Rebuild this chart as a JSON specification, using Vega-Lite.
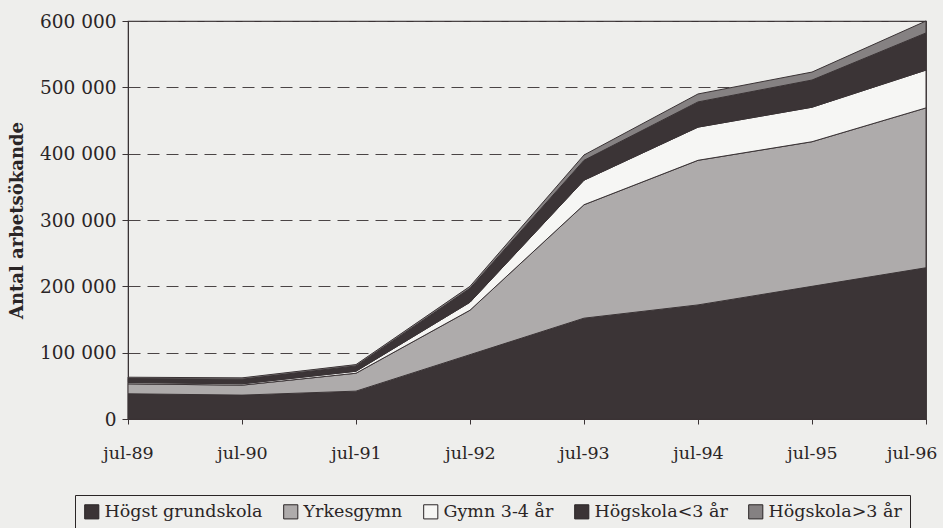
{
  "$schema": "https://vega.github.io/schema/vega-lite/v6.json",
  "width": 798,
  "height": 398,
  "autosize": {"type": "none"},
  "padding": {"left": 128, "top": 21, "right": 17, "bottom": 109},
  "background": "#eeeeec",
  "config": {
    "font": "DejaVu Serif",
    "view": {"stroke": "#3a3335", "strokeWidth": 1.2},
    "axis": {"labelFont": "DejaVu Serif", "titleFont": "DejaVu Serif", "labelColor": "#2a2526", "titleColor": "#2a2526"},
    "legend": {"labelFont": "DejaVu Serif"}
  },
  "data": {
    "values": [
      {"period": "jul-89", "cat": "Högst grundskola", "ord": 1, "n": 38000},
      {"period": "jul-90", "cat": "Högst grundskola", "ord": 1, "n": 36000},
      {"period": "jul-91", "cat": "Högst grundskola", "ord": 1, "n": 42000},
      {"period": "jul-92", "cat": "Högst grundskola", "ord": 1, "n": 97000},
      {"period": "jul-93", "cat": "Högst grundskola", "ord": 1, "n": 152000},
      {"period": "jul-94", "cat": "Högst grundskola", "ord": 1, "n": 172000},
      {"period": "jul-95", "cat": "Högst grundskola", "ord": 1, "n": 200000},
      {"period": "jul-96", "cat": "Högst grundskola", "ord": 1, "n": 228000},
      {"period": "jul-89", "cat": "Yrkesgymn", "ord": 2, "n": 15000},
      {"period": "jul-90", "cat": "Yrkesgymn", "ord": 2, "n": 15000},
      {"period": "jul-91", "cat": "Yrkesgymn", "ord": 2, "n": 27000},
      {"period": "jul-92", "cat": "Yrkesgymn", "ord": 2, "n": 67000},
      {"period": "jul-93", "cat": "Yrkesgymn", "ord": 2, "n": 171000},
      {"period": "jul-94", "cat": "Yrkesgymn", "ord": 2, "n": 218000},
      {"period": "jul-95", "cat": "Yrkesgymn", "ord": 2, "n": 218000},
      {"period": "jul-96", "cat": "Yrkesgymn", "ord": 2, "n": 241000},
      {"period": "jul-89", "cat": "Gymn 3-4 år", "ord": 3, "n": 2000},
      {"period": "jul-90", "cat": "Gymn 3-4 år", "ord": 3, "n": 2000},
      {"period": "jul-91", "cat": "Gymn 3-4 år", "ord": 3, "n": 3000},
      {"period": "jul-92", "cat": "Gymn 3-4 år", "ord": 3, "n": 12000},
      {"period": "jul-93", "cat": "Gymn 3-4 år", "ord": 3, "n": 37000},
      {"period": "jul-94", "cat": "Gymn 3-4 år", "ord": 3, "n": 50000},
      {"period": "jul-95", "cat": "Gymn 3-4 år", "ord": 3, "n": 52000},
      {"period": "jul-96", "cat": "Gymn 3-4 år", "ord": 3, "n": 57000},
      {"period": "jul-89", "cat": "Högskola<3 år", "ord": 4, "n": 6000},
      {"period": "jul-90", "cat": "Högskola<3 år", "ord": 4, "n": 7000},
      {"period": "jul-91", "cat": "Högskola<3 år", "ord": 4, "n": 8000},
      {"period": "jul-92", "cat": "Högskola<3 år", "ord": 4, "n": 21000},
      {"period": "jul-93", "cat": "Högskola<3 år", "ord": 4, "n": 30000},
      {"period": "jul-94", "cat": "Högskola<3 år", "ord": 4, "n": 38000},
      {"period": "jul-95", "cat": "Högskola<3 år", "ord": 4, "n": 41000},
      {"period": "jul-96", "cat": "Högskola<3 år", "ord": 4, "n": 56000},
      {"period": "jul-89", "cat": "Högskola>3 år", "ord": 5, "n": 2000},
      {"period": "jul-90", "cat": "Högskola>3 år", "ord": 5, "n": 2000},
      {"period": "jul-91", "cat": "Högskola>3 år", "ord": 5, "n": 2000},
      {"period": "jul-92", "cat": "Högskola>3 år", "ord": 5, "n": 3000},
      {"period": "jul-93", "cat": "Högskola>3 år", "ord": 5, "n": 8000},
      {"period": "jul-94", "cat": "Högskola>3 år", "ord": 5, "n": 12000},
      {"period": "jul-95", "cat": "Högskola>3 år", "ord": 5, "n": 12000},
      {"period": "jul-96", "cat": "Högskola>3 år", "ord": 5, "n": 18000}
    ]
  },
  "mark": {"type": "area", "stroke": "#3a3335", "strokeWidth": 1, "opacity": 1},
  "encoding": {
    "x": {
      "field": "period", "type": "ordinal",
      "scale": {"type": "point", "padding": 0},
      "axis": {
        "title": null, "labelAngle": 0, "labelFontSize": 17.5, "labelPadding": 20, "tickSize": 5,
        "labelAlign": {"condition": {"test": "datum.value == 'jul-96'", "value": "right"}, "value": "center"},
        "labelOffset": {"condition": {"test": "datum.value == 'jul-96'", "value": 11}, "value": 0},
        "domainColor": "#3a3335", "tickColor": "#3a3335", "grid": false
      }
    },
    "y": {
      "field": "n", "type": "quantitative", "stack": "zero",
      "scale": {"domain": [0, 600000]},
      "axis": {
        "title": "Antal arbetsökande", "titleFontSize": 18, "titleFontWeight": "bold", "titlePadding": 13,
        "values": [0, 100000, 200000, 300000, 400000, 500000, 600000],
        "labelExpr": "replace(format(datum.value, ','), /,/g, ' ')",
        "labelFontSize": 18.5, "tickSize": 6, "labelPadding": 6,
        "domainColor": "#3a3335", "tickColor": "#3a3335",
        "grid": true, "gridColor": "#4a4445", "gridDash": [12, 7], "gridWidth": 1.2
      }
    },
    "color": {
      "field": "cat", "type": "nominal",
      "scale": {
        "domain": ["Högst grundskola", "Yrkesgymn", "Gymn 3-4 år", "Högskola<3 år", "Högskola>3 år"],
        "range": ["#3b3436", "#aeabab", "#f6f6f4", "#3b3436", "#858182"]
      },
      "legend": {
        "title": null, "orient": "none", "legendX": -53, "legendY": 474,
        "direction": "horizontal", "columns": 5, "columnPadding": 18,
        "symbolType": "square", "symbolSize": 200, "symbolStrokeColor": "#2a2526", "symbolStrokeWidth": 1, "symbolOpacity": 1,
        "labelFontSize": 17.5, "labelColor": "#2a2526", "labelOffset": 4, "labelLimit": 0,
        "strokeColor": "#2a2526", "padding": 8, "fillColor": "#eeeeec"
      }
    },
    "order": {"field": "ord", "type": "quantitative"}
  }
}
